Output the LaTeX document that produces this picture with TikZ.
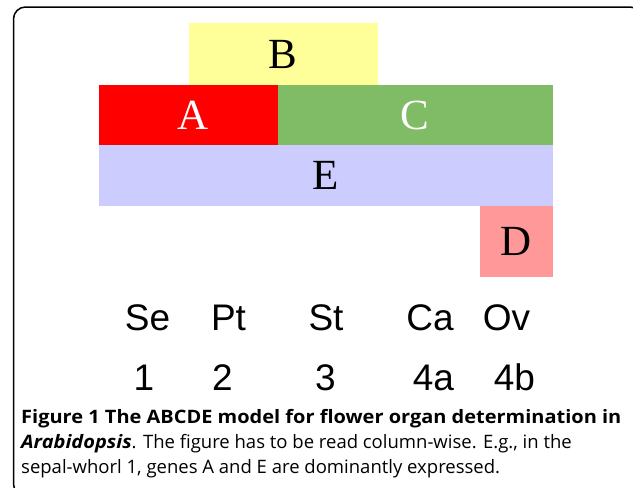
\documentclass[tikz,border=0pt]{standalone}
\usepackage{fontspec}
\setmainfont{Liberation Serif}
\newfontfamily\labelfont{Liberation Sans}
\newfontfamily\capfont{Open Sans}
\definecolor{geneB}{RGB}{255,255,153}
\definecolor{geneA}{RGB}{255,0,0}
\definecolor{geneC}{RGB}{128,187,102}
\definecolor{geneE}{RGB}{204,204,255}
\definecolor{geneD}{RGB}{255,153,153}
\tikzset{
  genebox/.style={rectangle, inner sep=0pt, outer sep=0pt, draw=none,
    font=\fontsize{43}{43}\selectfont},
  organ/.style={anchor=base, inner sep=0pt, font=\labelfont\fontsize{37}{37}\selectfont},
  captionline/.style={anchor=base west, inner sep=0pt, font=\capfont\fontsize{18.5}{18.5}\selectfont},
  frame/.style={draw=black, line width=1.5pt, rounded corners=12pt}
}
% wider bold face for the caption heading
\newcommand{\widebold}[1]{\scalebox{1.08}[1]{\bfseries #1}}
\begin{document}
\begin{tikzpicture}[x=1pt, y=-1pt]
  \useasboundingbox (0,0) rectangle (633,488);
  \clip (0,0) rectangle (633,488);
  % outer frame, running off the right and bottom edges
  \draw[frame] (13.5,7) rectangle (642,496);

  % gene expression domains
  \node[genebox, fill=geneB, minimum width=188.5pt, minimum height=62pt]
    (B) at (283.25,54) {B};
  \node[genebox, fill=geneA, text=white, minimum width=178.5pt, minimum height=60pt]
    (A) at (188.25,115) {\hspace{10pt}A};
  \node[genebox, fill=geneC, text=white, minimum width=275.5pt, minimum height=60pt]
    (C) at (415.25,115) {C};
  \node[genebox, fill=geneE, minimum width=454pt, minimum height=60.5pt]
    (E) at (326,175.25) {E};
  \node[genebox, fill=geneD, minimum width=73pt, minimum height=71.5pt]
    (D) at (516.5,241.25) {D};

  % floral organs
  \node[organ] (se) at (147.5,330) {Se};
  \node[organ] (pt) at (228.5,330) {Pt};
  \node[organ] (st) at (326,330) {St};
  \node[organ] (ca) at (430,330) {Ca};
  \node[organ] (ov) at (506.5,330) {Ov};

  % whorl numbers
  \node[organ] (w1) at (144,390) {1};
  \node[organ] (w2) at (222.5,390) {2};
  \node[organ] (w3) at (325.5,390) {3};
  \node[organ] (w4a) at (433.5,390) {4a};
  \node[organ] (w4b) at (514.5,390) {4b};

  % caption
  \node[captionline] (cap1) at (21,423)
    {\widebold{Figure 1 The ABCDE model for flower organ determination in}};
  \node[captionline] (cap2) at (21,448)
    {\widebold{\itshape Arabidopsis}. The figure has to be read column-wise. E.g., in the};
  \node[captionline] (cap3) at (21,473)
    {sepal-whorl 1, genes A and E are dominantly expressed.};
\end{tikzpicture}
\end{document}
